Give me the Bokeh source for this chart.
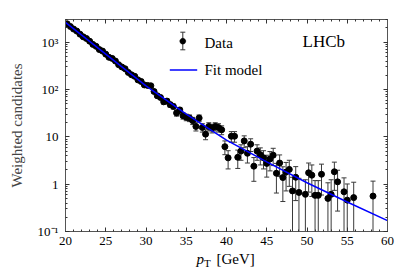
import numpy as np
from bokeh.plotting import figure
from bokeh.layouts import column
from bokeh.models import (Range1d, LinearAxis, LogAxis, LogTicker, SingleIntervalTicker,
                          CustomJSTickFormatter, Label, PolyAnnotation, Arrow, Whisker,
                          TeeHead, ColumnDataSource)
from bokeh.embed import file_html
from bokeh.resources import INLINE

# ---- data (bin centres in GeV, weighted candidates, uncertainties) ----
pt = [20.2, 20.6, 21.0, 21.4, 21.8, 22.2, 22.6, 23.0, 23.4, 23.8,
      24.2, 24.6, 25.0, 25.4, 25.8, 26.2, 26.6, 27.0, 27.4, 27.8,
      28.2, 28.6, 29.0, 29.4, 29.8, 30.2, 30.6, 31.0, 31.4, 31.8,
      32.2, 32.6, 33.0, 33.4, 33.8, 34.2, 34.6, 35.0, 35.4, 35.8,
      36.2, 36.6, 37.0, 37.4, 37.8, 38.2, 38.6, 39.0, 39.4, 39.8,
      40.2, 40.6, 41.0, 41.4, 41.8, 42.2, 42.6, 43.0, 43.4, 43.8,
      44.2, 44.6, 45.0, 45.4, 45.8, 46.2, 46.6, 47.0, 47.4, 47.8,
      48.2, 48.6, 49.0, 49.8, 50.2, 50.6, 51.0, 51.4, 51.8, 52.6,
      53.0, 53.4, 53.8, 54.6, 55.0, 55.8, 58.2]

counts = [2450, 2150, 1900, 1720, 1480, 1300, 1200, 1050, 900, 820,
          700, 650, 560, 480, 455, 400, 335, 300, 275, 230,
          205, 190, 160, 148, 125, 122, 120, 91, 74, 68,
          55, 57, 48, 44, 32, 37, 28, 26, 25, 22,
          16.6, 25, 15.8, 11.4, 16.6, 15.3, 16.6, 15.8, 14.1, 6.2,
          3.6, 10.3, 10.3, 3.7, 5.0, 8.2, 4.5, 7.0, 2.4, 5.0,
          4.2, 3.6, 2.75, 3.4, 4.1, 1.7, 2.8, 1.38, 1.8, 2.05,
          0.72, 1.4, 0.67, 0.61, 1.74, 1.55, 0.58, 0.58, 1.62, 0.50,
          0.61, 1.83, 1.12, 0.69, 0.46, 0.52, 0.56]

errors = [39.9, 37.4, 35.1, 33.4, 31.0, 29.1, 27.9, 26.1, 24.2, 23.1,
          21.3, 20.6, 19.1, 17.7, 17.2, 16.1, 14.8, 14.0, 13.4, 12.2,
          11.5, 11.1, 10.2, 9.8, 9.0, 8.9, 8.8, 7.7, 6.9, 6.6,
          6.0, 6.1, 5.6, 5.3, 4.6, 4.9, 4.3, 4.1, 4.0, 3.8,
          3.3, 4.0, 3.2, 2.7, 3.3, 3.2, 3.3, 3.2, 3.0, 2.0,
          1.5, 2.6, 2.6, 1.55, 1.8, 2.3, 1.7, 2.1, 1.25, 1.8,
          1.65, 1.5, 1.34, 1.49, 1.63, 1.05, 1.35, 0.95, 1.08, 1.15,
          0.68, 0.95, 0.66, 0.63, 1.06, 1.0, 0.61, 0.61, 1.03, 0.57,
          0.63, 1.09, 0.85, 0.67, 0.55, 0.58, 0.60]

fit_pt = [20, 25, 30, 35, 40, 45, 50, 55, 60]
fit_val = [2630, 562, 120, 30.2, 8.5, 2.95, 1.07, 0.42, 0.17]

x_ticks_interval = 5
FONT = "Liberation Serif"

lo = [max(v - e, 1e-3) for v, e in zip(counts, errors)]
hi = [v + e for v, e in zip(counts, errors)]

p = figure(width=407, height=251, output_backend="svg", toolbar_location=None,
           x_range=Range1d(20, 60), y_range=Range1d(0.1, 3020), y_axis_type="log",
           min_border_left=65, min_border_right=20, min_border_top=19, min_border_bottom=20)
p.outline_line_color = None
p.grid.visible = False
p.background_fill_color = "white"
p.border_fill_color = "white"

AX = "#555555"

def style(ax, labels=True):
    ax.axis_line_color = AX
    ax.axis_line_width = 1
    ax.major_tick_line_color = "#333333"
    ax.minor_tick_line_color = "#333333"
    ax.major_tick_in = 4
    ax.major_tick_out = 0
    ax.minor_tick_in = 2
    ax.minor_tick_out = 0
    ax.major_label_text_font = FONT
    ax.major_label_text_font_size = "13px"
    ax.major_label_text_color = "black"
    if not labels:
        ax.formatter = CustomJSTickFormatter(code="return ''")

xb = p.xaxis[0]
xb.ticker = SingleIntervalTicker(interval=x_ticks_interval, num_minor_ticks=5)
style(xb)
xb.major_label_standoff = 5

yl = p.yaxis[0]
yl.ticker = LogTicker(num_minor_ticks=10)
yl.formatter = CustomJSTickFormatter(code="""
const e = Math.round(Math.log10(tick));
if (e == 0) { return "1"; }
if (e == 1) { return "10"; }
const s = {"-1": "\u207b\u00b9", "2": "\u00b2", "3": "\u00b3", "4": "\u2074"};
return "10" + s[String(e)];
""")
style(yl)
yl.major_label_standoff = 7
yl.axis_label = "Weighted candidates"
yl.axis_label_text_font = FONT
yl.axis_label_text_font_size = "15px"
yl.axis_label_text_font_style = "normal"
yl.axis_label_standoff = 10

xt = LinearAxis(ticker=SingleIntervalTicker(interval=x_ticks_interval, num_minor_ticks=5))
style(xt, labels=False)
xt.major_label_standoff = 0
p.add_layout(xt, "above")

yr = LogAxis(ticker=LogTicker(num_minor_ticks=10))
style(yr, labels=False)
yr.major_label_standoff = 0
p.add_layout(yr, "right")

# ---- data with error bars ----
EB = "#3a3a3a"
p.segment(x0=pt, y0=lo, x1=pt, y1=hi, line_color=EB, line_width=1)
p.scatter(x=pt, y=hi, marker="dash", size=5, line_color=EB, line_width=1)
p.scatter(x=pt, y=lo, marker="dash", size=5, line_color=EB, line_width=1)
p.scatter(x=pt, y=counts, marker="circle", size=6, fill_color="black", line_color="black")
# ---- fit model ----
p.line(x=fit_pt, y=fit_val, line_color="#0000ff", line_width=1.5)

# ---- legend (screen units relative to frame) ----
wsrc = ColumnDataSource(dict(b=[117.3], l=[181.7], u=[199.3]))
p.add_layout(Whisker(source=wsrc, base="b", lower="l", upper="u", dimension="height",
                     base_units="screen", lower_units="screen", upper_units="screen",
                     line_color="#333333", line_width=1,
                     lower_head=TeeHead(size=5, line_color="#333333"),
                     upper_head=TeeHead(size=5, line_color="#333333")))
th = np.linspace(0, 2 * np.pi, 20, endpoint=False)
p.add_layout(PolyAnnotation(xs=list(117.3 + 3 * np.cos(th)), ys=list(190.3 + 3 * np.sin(th)),
                            xs_units="screen", ys_units="screen",
                            fill_color="black", fill_alpha=1, line_color="black"))
p.add_layout(Arrow(x_start=104.3, y_start=161.5, x_end=131.7, y_end=161.5,
                   start_units="screen", end_units="screen", start=None, end=None,
                   line_color="#0000ff", line_width=1.5))

def lab(fig, x, y, t, size="15px", style_="normal", baseline="middle"):
    fig.add_layout(Label(x=x, y=y, x_units="screen", y_units="screen", text=t,
                         text_font=FONT, text_font_size=size, text_font_style=style_,
                         text_baseline=baseline, text_color="black"))

lab(p, 139, 188.5, "Data")
lab(p, 139, 161.5, "Fit model")
lab(p, 237, 190.5, "LHCb", size="17px")

# ---- strip below the chart holding the x-axis title p_T [GeV] ----
p2 = figure(width=407, height=25, output_backend="svg", toolbar_location=None, title=None,
            x_range=Range1d(0, 407), y_range=Range1d(0, 25),
            x_axis_location=None, y_axis_location=None,
            min_border_left=0, min_border_right=0, min_border_top=0, min_border_bottom=0)
p2.outline_line_color = None
p2.grid.visible = False
p2.border_fill_color = "white"
p2.background_fill_color = "white"
lab(p2, 131, 17.5, "p", style_="italic")
lab(p2, 138.5, 13.3, "T", size="11px")
lab(p2, 151, 17.5, "[GeV]")

layout = column(p, p2, spacing=0)
open("out.html", "w").write(file_html(layout, INLINE))
